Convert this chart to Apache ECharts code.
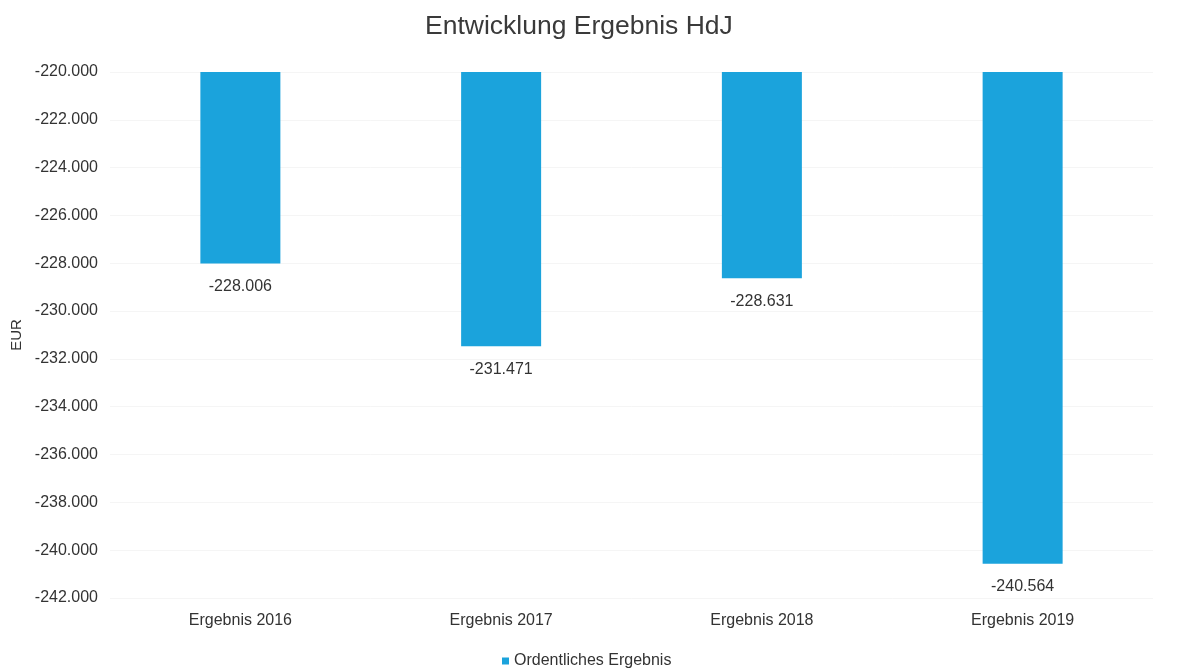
<!DOCTYPE html>
<html>
<head>
<meta charset="utf-8">
<script src="https://cdn.jsdelivr.net/npm/echarts@6/dist/echarts.min.js"></script>
<style>
  html, body { margin: 0; padding: 0; background: #fff; }
  #chart { width: 1177px; height: 669px; }
</style>
</head>
<body>
<div id="chart"></div>
<script>
// Annual ordinary result (EUR)
const categories = ['Ergebnis 2016', 'Ergebnis 2017', 'Ergebnis 2018', 'Ergebnis 2019'];
const ordentlichesErgebnis = [-228006, -231471, -228631, -240564];
const seriesName = 'Ordentliches Ergebnis';
const yMin = -242000;
const yMax = -220000;
const yStep = 2000;

// German number formatting: dot as thousands separator
function fmtDE(v) {
  const sign = v < 0 ? '-' : '';
  const s = Math.round(Math.abs(v)).toString();
  return sign + s.replace(/\B(?=(\d{3})+(?!\d))/g, '.');
}

const FONT = '"Liberation Sans", Arial, sans-serif';
const chart = echarts.init(document.getElementById('chart'), null, { renderer: 'canvas' });

chart.setOption({
  animation: false,
  backgroundColor: '#ffffff',
  textStyle: { fontFamily: FONT },
  title: {
    text: 'Entwicklung Ergebnis HdJ',
    left: 420,
    top: 8,
    textStyle: { fontFamily: FONT, fontSize: 26.5, fontWeight: 'normal', color: '#3a3a3a' }
  },
  legend: {
    top: 648,
    left: 497,
    icon: 'rect',
    itemWidth: 7,
    itemHeight: 7,
    itemGap: 6,
    textStyle: { fontFamily: FONT, fontSize: 16, color: '#333' },
    data: [seriesName]
  },
  grid: { left: 110, right: 24, top: 72, bottom: 71, containLabel: false },
  xAxis: {
    type: 'category',
    data: categories,
    axisLine: { show: false },
    axisTick: { show: false },
    axisLabel: { fontFamily: FONT, fontSize: 16, color: '#333', margin: 15 }
  },
  yAxis: {
    type: 'value',
    min: yMin,
    max: yMax,
    interval: yStep,
    name: 'EUR',
    nameLocation: 'middle',
    nameGap: 86,
    nameTextStyle: { fontFamily: FONT, fontSize: 15, color: '#333' },
    axisLine: { show: false },
    axisTick: { show: false },
    axisLabel: { fontFamily: FONT, fontSize: 16, color: '#333', margin: 12, formatter: fmtDE },
    splitLine: { show: true, lineStyle: { color: '#f5f5f5', width: 1 } }
  },
  series: [{
    name: seriesName,
    type: 'bar',
    data: ordentlichesErgebnis,
    barWidth: 80,
    clip: true,
    itemStyle: { color: '#1ba3dc' },
    label: {
      show: true,
      position: 'bottom',
      distance: 15,
      fontFamily: FONT,
      fontSize: 16,
      color: '#333',
      formatter: p => fmtDE(p.value)
    }
  }]
});
</script>
</body>
</html>
